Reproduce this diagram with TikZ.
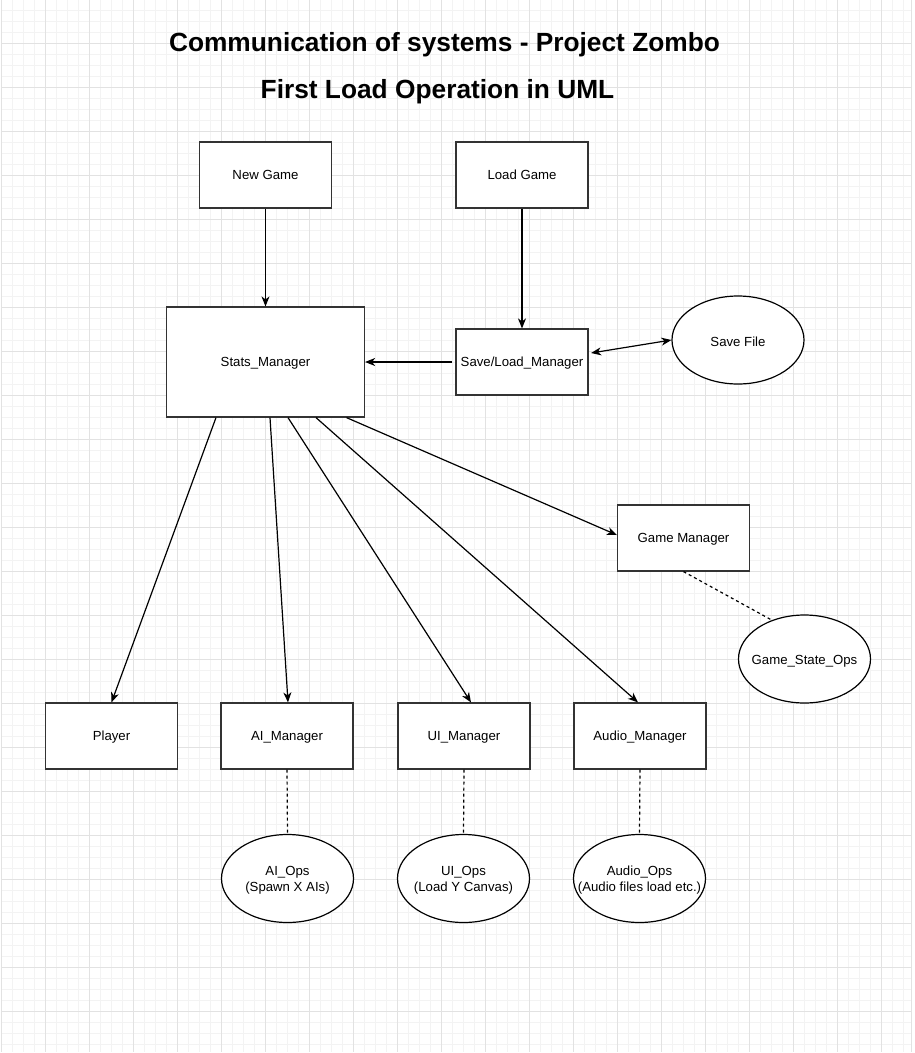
\documentclass[tikz,border=0pt]{standalone}
\usepackage{fontspec}
\setmainfont{Liberation Sans}
\usetikzlibrary{shapes.geometric,arrows.meta}
\definecolor{gridminor}{HTML}{F3F3F3}
\definecolor{gridmajor}{HTML}{E2E2E2}
\definecolor{edgegray}{HTML}{333333}
\begin{document}
\begin{tikzpicture}[x=1pt,y=-1pt,
  box/.style={draw=edgegray,line width=1.2pt,fill=white,minimum width=132pt,minimum height=66pt,inner sep=0pt,text height=12pt,text depth=2.6pt,font=\fontsize{13.2}{15.5}\selectfont},
  oval/.style={ellipse,draw=black,line width=1.2pt,fill=white,minimum width=132pt,minimum height=88pt,inner sep=0pt},
  olabel/.style={align=center,font=\fontsize{13.2}{16}\selectfont,inner sep=0pt,yshift=-1.8pt},
  arr/.style={-{Stealth[length=10pt,width=8pt,inset=3pt]},line width=1.2pt},
  darr/.style={{Stealth[length=10pt,width=8pt,inset=3pt]}-{Stealth[length=10pt,width=8pt,inset=3pt]},line width=1.2pt},
  dep/.style={dash pattern=on 3pt off 3pt,line width=1.2pt},
  titlefont/.style={font=\bfseries\fontsize{26.3}{30}\selectfont}]
\useasboundingbox (0,0) rectangle (914,1053);
\fill[white] (0,0) rectangle (914,1053);
% grid
\foreach \i in {0,...,82} \draw[gridminor,line width=1pt] ({1+11*\i},0) -- ({1+11*\i},1052);
\foreach \j in {1,...,95} \draw[gridminor,line width=1pt] (1,{-1+11*\j}) -- (911.5,{-1+11*\j});
\foreach \i in {0,...,20} \draw[gridmajor,line width=1pt] ({1+44*\i},0) -- ({1+44*\i},1052);
\foreach \j in {1,...,23} \draw[gridmajor,line width=1pt] (1,{-1+44*\j}) -- (911.5,{-1+44*\j});
\draw[gridmajor,line width=1.5pt] (911.5,0) -- (911.5,1052);

% titles
\node[titlefont] (t1) at (444.5,45) {Communication of systems - Project Zombo};
\node[titlefont] (t2) at (437.5,92) {First Load Operation in UML};

% nodes
\node[box] (ng) at (265.5,175) {New Game};
\node[box] (lg) at (522,175) {Load Game};
\node[box,minimum width=198pt,minimum height=110pt] (sm) at (265.5,362) {Stats\_Manager};
\node[box] (sl) at (522,362) {Save/Load\_Manager};
\node[oval,label={[olabel]center:{Save File}}] (sf) at (738,340) {};
\node[box] (gm) at (683.5,538) {Game Manager};
\node[oval,label={[olabel]center:{Game\_State\_Ops}}] (gso) at (804.5,659) {};
\node[box] (pl) at (111.5,736) {Player};
\node[box] (ai) at (287,736) {AI\_Manager};
\node[box] (ui) at (464,736) {UI\_Manager};
\node[box] (au) at (640,736) {Audio\_Manager};
\node[oval,label={[olabel]center:{AI\_Ops\\(Spawn X AIs)}}] (aio) at (287.5,878.5) {};
\node[oval,label={[olabel]center:{UI\_Ops\\(Load Y Canvas)}}] (uio) at (463.5,878.5) {};
\node[oval,label={[olabel]center:{Audio\_Ops\\(Audio files load etc.)}}] (auo) at (639.5,878.5) {};

% connectors
\draw[arr] (ng) -- (sm);
\draw[arr] (lg) -- (sl);
\draw[arr] ([xshift=-3pt]sl.west) -- (sm.east);
\draw[darr] ([xshift=2.5pt,yshift=9pt]sl.east) -- (sf.west);
\draw[arr] ([xshift=-49.5pt]sm.south) -- (pl.north);
\draw[arr] ([xshift=4.5pt]sm.south) -- ([xshift=1pt]ai.north);
\draw[arr] ([xshift=22.5pt]sm.south) -- ([xshift=7pt]ui.north);
\draw[arr] ([xshift=50.5pt]sm.south) -- ([xshift=-2pt]au.north);
\draw[arr] ([xshift=81pt]sm.south) -- ([yshift=3pt]gm.west);
\draw[dep] (gm.south) -- (gso.130);
\draw[dep] (ai.south) -- (aio.north);
\draw[dep] (ui.south) -- (uio.north);
\draw[dep] (au.south) -- (auo.north);
\end{tikzpicture}
\end{document}
